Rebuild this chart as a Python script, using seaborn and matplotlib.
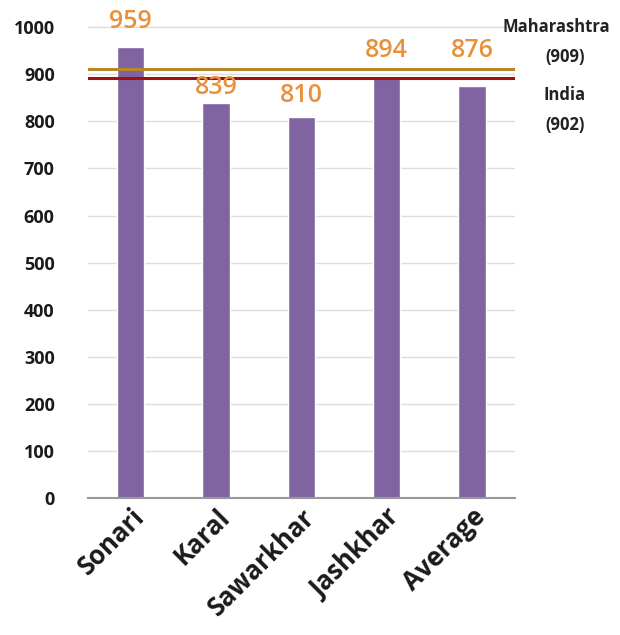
import matplotlib
matplotlib.use("Agg")
import matplotlib.pyplot as plt
import seaborn as sns
import pandas as pd

villages = ["Sonari", "Karal", "Sawarkhar", "Jashkhar", "Average"]
sex_ratio = [959, 839, 810, 894, 876]
ref_names = ["Maharashtra", "India"]
ref_values = [909, 902]
ref_lines = [911, 893]  # where the lines sit in the picture
ref_colors = ["#B8862B", "#A01010"]

sns.set_theme(style="whitegrid")
plt.rcParams["font.family"] = ["Open Sans", "DejaVu Sans"]

df = pd.DataFrame({"village": villages, "ratio": sex_ratio})

fig = plt.figure(figsize=(6.2, 6.35), dpi=100)
ax = fig.add_axes([0.142, 0.216, 0.688, 0.778])

sns.barplot(data=df, x="village", y="ratio", color="#8064A2", saturation=1,
            width=0.32, ax=ax)

# label offsets (points) - labels were nudged by hand in the original
label_pad = [9, 2, 6, 10, 16]
for i, v in enumerate(sex_ratio):
    ax.annotate(str(v), (i, v), xytext=(0, label_pad[i]), textcoords="offset points",
                ha="center", va="bottom", color="#E8913A", fontsize=18,
                fontweight="semibold")

for val, c in zip(ref_lines, ref_colors):
    ax.axhline(val, color=c, lw=2.2)

ax.set_ylim(0, 1050)
ax.set_xlim(-0.5, 4.5)
ax.set_yticks(range(0, 1001, 100))
ax.set_xlabel("")
ax.set_ylabel("")
ax.grid(axis="x", visible=False)
ax.grid(axis="y", color="#DDDDDD", lw=1)
for s in ["top", "right", "left"]:
    ax.spines[s].set_visible(False)
ax.spines["bottom"].set_color("#999999")
ax.spines["bottom"].set_linewidth(1.5)
ax.tick_params(axis="y", labelsize=13, pad=24, length=0, labelcolor="#1a1a1a")
ax.tick_params(axis="x", labelsize=18.5, length=0, pad=4, labelcolor="#1a1a1a")
for lbl in ax.get_yticklabels():
    lbl.set_fontweight("bold")
for lbl in ax.get_xticklabels():
    lbl.set_fontweight("bold")
    lbl.set_rotation(45)
    lbl.set_ha("right")
    lbl.set_rotation_mode("anchor")

# side labels for reference lines
side = dict(ha="center", va="center", fontsize=12, fontweight="bold", color="#222222")
fig.text(0.898, 0.957, ref_names[0], **side)
fig.text(0.911, 0.910, f"({ref_values[0]})", **side)
fig.text(0.911, 0.850, ref_names[1], **side)
fig.text(0.911, 0.803, f"({ref_values[1]})", **side)

fig.savefig("out.png", dpi=100)
